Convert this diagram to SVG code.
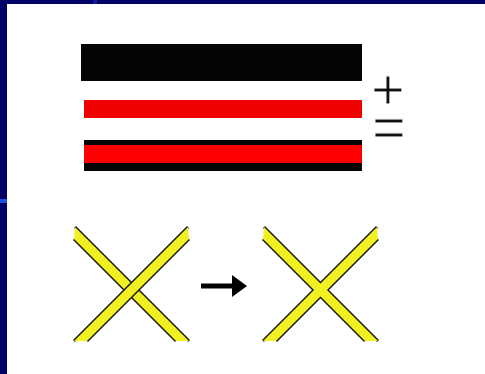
<svg xmlns="http://www.w3.org/2000/svg" width="485" height="374" viewBox="0 0 485 374">
<style>
.sym{font-family:"Liberation Sans",Arial,sans-serif;font-size:58px;fill:#111;stroke:#fff;stroke-width:1.2px;text-anchor:middle}
.edge{fill:none;stroke:#111;stroke-width:2.8;stroke-linecap:butt}
.fill{fill:#f0f022;stroke:none}
</style>
<defs>
<path id="bse" d="M75 227 L189 341 M74 239 L176 341"/>
<polygon id="bsf" points="75,227 189,341 176,341 74,239"/>
<path id="fse" d="M188 227 L74 341 M189 239 L87 341"/>
<polygon id="fsf" points="188,227 74,341 87,341 189,239"/>
</defs>
<rect width="485" height="374" fill="#fff"/>
<rect x="0" y="0" width="485" height="4" fill="#000066"/>
<rect x="0" y="0" width="7" height="374" fill="#000066"/>
<rect x="0" y="199" width="7" height="4" fill="#1a4fe0"/>
<rect x="93" y="0" width="4" height="4" fill="#0a1a9a"/>
<g id="bars">
<rect x="81" y="44" width="281" height="37" fill="#050505"/>
<rect x="84" y="100" width="278" height="18" fill="#f00000"/>
<rect x="84" y="140" width="278" height="31" fill="#050505"/>
<rect x="84" y="145" width="278" height="18" fill="#ff0000"/>
</g>
<g id="signs"><text class="sym"><tspan x="388" y="109">+</tspan><tspan x="389" y="147">=</tspan></text></g>
<g id="cross-left">
<use href="#bse" class="edge"/><use href="#bsf" class="fill"/>
<use href="#fse" class="edge"/><use href="#fsf" class="fill"/>
</g>
<g id="connectors">
<path d="M201 286 H234" stroke="#000" stroke-width="5" fill="none"/>
<polygon points="232,275 247,286 232,297" fill="#000"/>
</g>
<g id="cross-right" transform="translate(189,0)">
<use href="#bse" class="edge"/><use href="#fse" class="edge"/>
<use href="#bsf" class="fill"/><use href="#fsf" class="fill"/>
</g>
</svg>
